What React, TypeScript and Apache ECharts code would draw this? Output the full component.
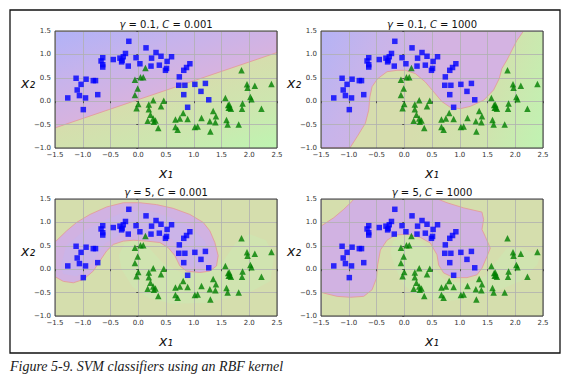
import React, { useEffect, useRef } from "react";
import * as echarts from "echarts";

// ---------- data ----------
const xTicks = [-1.5, -1.0, -0.5, 0.0, 0.5, 1.0, 1.5, 2.0, 2.5];
const yTicks = [-1.0, -0.5, 0.0, 0.5, 1.0, 1.5];

const gammas = ["0.1", "0.1", "5", "5"];
const Cs = ["0.001", "1000", "0.001", "1000"];

const blueSquares: number[][] = [
  [-0.17, 1.28], [0.14, 1.14], [-0.23, 1.02], [0.32, 1.04], [0.41, 0.96], [0.6, 0.95],
  [-0.04, 0.93], [0.24, 0.92], [-0.33, 0.92], [-0.29, 0.87], [-0.3, 0.84], [-0.27, 0.95],
  [-0.45, 0.89], [-0.64, 0.93], [-0.67, 0.86], [-0.64, 0.78], [-0.64, 0.73], [-0.18, 0.75],
  [0.03, 0.8], [0.23, 0.75], [0.38, 0.77], [0.52, 0.85], [0.49, 0.66], [0.51, 0.7],
  [0.93, 0.8], [0.87, 0.72], [0.82, 0.66], [0.74, 0.52], [0.73, 0.34], [0.84, 0.34],
  [1.02, 0.36], [1.21, 0.38], [1.13, 0.21], [0.82, 0.14], [1.27, 0.03], [0.89, -0.13],
  [-1.12, 0.49], [-0.94, 0.47], [-0.81, 0.44], [-0.77, 0.44], [-1.03, 0.36], [-1.1, 0.24],
  [-1.06, 0.12], [-0.95, 0.07], [-1.27, 0.07], [-0.73, 0.14], [-0.99, -0.18],
];

const greenTriangles: number[][] = [
  [0.13, 0.71], [-0.06, 0.46], [0.04, 0.51], [0.09, 0.51], [-0.01, 0.27], [-0.06, 0.13],
  [0.0, -0.06], [-0.03, -0.15], [0.27, 0.02], [0.46, 0.01], [0.19, -0.07], [0.19, -0.17],
  [0.41, -0.11], [0.22, -0.29], [0.27, -0.37], [0.17, -0.42], [0.28, -0.44], [0.31, -0.41],
  [0.36, -0.57], [0.67, -0.39], [0.75, -0.37], [0.81, -0.25], [0.89, -0.38], [0.67, -0.55],
  [0.71, -0.61], [1.02, -0.55], [1.07, -0.54], [1.14, -0.36], [1.29, -0.43], [1.3, -0.65],
  [1.35, -0.21], [1.4, -0.32], [1.39, -0.45], [1.57, 0.07], [1.62, -0.08], [1.64, -0.07],
  [1.65, -0.13], [1.63, -0.14], [1.67, -0.16], [1.59, -0.4], [1.61, -0.5], [1.81, -0.5],
  [1.86, 0.66], [1.88, -0.05], [1.87, -0.16], [1.96, 0.36], [1.97, 0.29], [2.1, 0.33],
  [2.02, 0.09], [2.04, 0.04], [2.22, -0.16], [2.4, 0.37],
];

// decision regions, in data coordinates
const fullDomain = [[-1.5, -1.0], [2.5, -1.0], [2.5, 1.5], [-1.5, 1.5]];

const purpleTL = [[-1.5, 1.5], [2.5, 1.5], [2.5, 1.04], [-1.5, -0.57]];

const purpleTR = [
  [-1.5, -1.0], [-0.98, -1.0], [-0.85, -0.76], [-0.7, -0.47], [-0.64, -0.19], [-0.62, 0.09],
  [-0.58, 0.31], [-0.48, 0.48], [-0.31, 0.63], [-0.13, 0.66], [0.02, 0.66], [0.2, 0.59],
  [0.38, 0.41], [0.53, 0.2], [0.68, -0.01], [0.83, -0.13], [1.01, -0.16], [1.19, -0.11],
  [1.43, 0.02], [1.61, 0.24], [1.71, 0.48], [1.76, 0.7], [1.85, 0.88], [2.03, 1.3],
  [2.15, 1.5], [-1.5, 1.5],
];

const purpleBL = [
  [-1.5, 0.58], [-1.29, 0.82], [-1.11, 1.0], [-0.87, 1.17], [-0.57, 1.33], [-0.27, 1.42],
  [0.03, 1.42], [0.33, 1.38], [0.63, 1.3], [0.93, 1.17], [1.17, 1.0], [1.29, 0.82],
  [1.38, 0.57], [1.44, 0.29], [1.41, 0.07], [1.29, -0.04], [1.11, -0.07], [0.87, -0.04],
  [0.75, 0.07], [0.66, 0.29], [0.54, 0.46], [0.39, 0.57], [0.15, 0.6], [-0.09, 0.62],
  [-0.27, 0.6], [-0.45, 0.53], [-0.57, 0.39], [-0.69, 0.18], [-0.81, -0.04], [-0.99, -0.22],
  [-1.17, -0.29], [-1.35, -0.26], [-1.5, -0.16],
];
const innerBlueBL = [
  [-1.4, 0.05], [-1.3, 0.5], [-1.0, 0.8], [-0.6, 1.05], [-0.2, 1.25], [0.2, 1.25],
  [0.6, 1.1], [0.95, 0.9], [1.2, 0.6], [1.3, 0.25], [1.2, 0.05], [0.95, 0.05],
  [0.8, 0.3], [0.6, 0.65], [0.2, 0.75], [-0.3, 0.75], [-0.6, 0.55], [-0.85, 0.1],
  [-1.1, -0.15], [-1.35, -0.1],
];
const innerGreenBL = [
  [-0.25, 0.55], [0.0, 0.62], [0.2, 0.45], [0.45, 0.12], [0.8, -0.08], [1.2, -0.08],
  [1.5, 0.12], [1.75, 0.55], [2.0, 0.75], [2.3, 0.62], [2.45, 0.3], [2.38, -0.25],
  [2.0, -0.5], [1.6, -0.62], [1.2, -0.72], [0.6, -0.74], [0.2, -0.62], [-0.1, -0.38],
  [-0.3, 0.0], [-0.35, 0.3],
];

const purpleBR = [
  [-1.5, 0.92], [-1.27, 1.1], [-1.09, 1.28], [-0.94, 1.45], [-0.91, 1.5], [0.6, 1.5],
  [0.77, 1.42], [1.07, 1.31], [1.4, 1.22], [1.43, 1.06], [1.4, 0.85], [1.46, 0.7],
  [1.55, 0.45], [1.49, 0.27], [1.4, 0.02], [1.31, -0.12], [1.13, -0.18], [0.89, -0.18],
  [0.71, -0.08], [0.62, 0.09], [0.59, 0.31], [0.47, 0.56], [0.29, 0.68], [0.05, 0.75],
  [-0.16, 0.73], [-0.31, 0.62], [-0.43, 0.41], [-0.48, 0.09], [-0.5, -0.19], [-0.58, -0.44],
  [-0.73, -0.58], [-0.97, -0.6], [-1.21, -0.58], [-1.45, -0.51], [-1.5, -0.49],
];
const innerGreenBR = [
  [-0.2, 0.6], [0.05, 0.7], [0.3, 0.6], [0.5, 0.35], [0.55, 0.0], [0.75, -0.25],
  [1.1, -0.3], [1.45, -0.15], [1.65, 0.15], [1.85, 0.45], [2.1, 0.45], [2.45, 0.3],
  [2.4, 0.1], [2.1, -0.25], [1.7, -0.45], [1.3, -0.6], [0.8, -0.68], [0.3, -0.62],
  [0.0, -0.35], [-0.15, 0.0], [-0.25, 0.35],
];

// ---------- styles ----------
const BOUNDARY = "#e3a19f";
const OLIVE = "#d5dead";
const PURPLE = "#d1b2e2";

type Grad = { from: number[]; to: number[]; stops: [number, string][] };
type Region = { pts: number[][]; fill: string | Grad; stroke?: boolean };

const panels: Region[][] = [
  [
    {
      pts: fullDomain,
      fill: { from: [0.5, 0.24], to: [1.03, -1.6], stops: [[0, "#d6ddad"], [0.5, "#cde6af"], [1, "#bef5b1"]] },
    },
    {
      pts: purpleTL,
      stroke: true,
      fill: { from: [0.5, 0.24], to: [-0.03, 2.08], stops: [[0, "#d7b3df"], [0.5, "#c6b3ec"], [1, "#b1b2f7"]] },
    },
  ],
  [
    {
      pts: fullDomain,
      fill: { from: [0.3, -0.1], to: [2.5, -1.0], stops: [[0, "#d6ddad"], [0.55, "#cfe4ae"], [1, "#c0f3b2"]] },
    },
    {
      pts: purpleTR,
      stroke: true,
      fill: { from: [0.3, 0.4], to: [-1.5, 1.5], stops: [[0, "#d4b3e2"], [0.5, "#c8b4ea"], [1, "#b4b3f5"]] },
    },
  ],
  [
    { pts: fullDomain, fill: OLIVE },
    { pts: innerGreenBL, fill: "#d0e4b0" },
    { pts: purpleBL, fill: PURPLE, stroke: true },
    { pts: innerBlueBL, fill: "#cbb4e8" },
  ],
  [
    { pts: fullDomain, fill: OLIVE },
    { pts: innerGreenBR, fill: "#d0e4b0" },
    { pts: purpleBR, fill: PURPLE, stroke: true },
  ],
];

const gridBoxes = [
  { left: 55, top: 31 },
  { left: 321, top: 31 },
  { left: 55, top: 199 },
  { left: 321, top: 199 },
];
const PW = 222;
const PH = 117;

const fmt = (v: number) => (v < 0 ? "\u2212" : "") + Math.abs(v).toFixed(1);

export default function App() {
  const ref = useRef<HTMLDivElement>(null);

  useEffect(() => {
    if (!ref.current) return;
    const chart = echarts.init(ref.current, null, { renderer: "svg" });

    const grids = gridBoxes.map((g) => ({
      left: g.left,
      top: g.top,
      width: PW,
      height: PH,
      show: true,
      z: 4,
      backgroundColor: "transparent",
      borderColor: "#3c3c3c",
      borderWidth: 1,
    }));

    const xAxes = gridBoxes.map((_, i) => ({
      type: "value",
      gridIndex: i,
      min: xTicks[0],
      max: xTicks[xTicks.length - 1],
      interval: xTicks[1] - xTicks[0],
      z: 3,
      name: "x\u2081",
      nameLocation: "middle",
      nameGap: 18,
      nameTextStyle: { fontSize: 14, fontFamily: "DejaVu Sans", fontStyle: "italic", color: "#111" },
      axisLine: { show: false },
      axisTick: { show: true, length: 2, lineStyle: { color: "#333", width: 0.8 } },
      axisLabel: {
        fontSize: 7, fontFamily: "DejaVu Sans", color: "#333", margin: 3,
        formatter: fmt, showMinLabel: true, showMaxLabel: true, hideOverlap: false,
      },
      splitLine: { show: true, lineStyle: { color: "#b0b0b0", width: 0.8 } },
    }));

    const yAxes = gridBoxes.map((_, i) => ({
      type: "value",
      gridIndex: i,
      min: yTicks[0],
      max: yTicks[yTicks.length - 1],
      interval: yTicks[1] - yTicks[0],
      z: 3,
      name: "x\u2082",
      nameLocation: "middle",
      nameRotate: 0,
      nameGap: 20,
      nameMoveOverlap: false,
      nameTextStyle: {
        fontSize: 14, fontFamily: "DejaVu Sans", fontStyle: "italic", color: "#111",
        align: "right",
        verticalAlign: "bottom",
      },
      axisLine: { show: false },
      axisTick: { show: true, length: 2, lineStyle: { color: "#333", width: 0.8 } },
      axisLabel: {
        fontSize: 7, fontFamily: "DejaVu Sans", color: "#333", margin: 4,
        formatter: fmt, showMinLabel: true, showMaxLabel: true, hideOverlap: false,
      },
      splitLine: { show: true, lineStyle: { color: "#b0b0b0", width: 0.8 } },
    }));

    const series: any[] = [];
    panels.forEach((regions, i) => {
      regions.forEach((r) => {
        series.push({
          type: "custom",
          xAxisIndex: i,
          yAxisIndex: i,
          z: 1,
          silent: true,
          clip: true,
          data: [[0, 0]],
          renderItem: (_p: any, api: any) => {
            const points = r.pts.map((p) => api.coord(p));
            let fill: any;
            if (typeof r.fill === "string") fill = r.fill;
            else {
              const a = api.coord(r.fill.from);
              const b = api.coord(r.fill.to);
              fill = new echarts.graphic.LinearGradient(
                a[0], a[1], b[0], b[1],
                r.fill.stops.map(([offset, color]) => ({ offset, color })),
                true
              );
            }
            return {
              type: "polygon",
              shape: { points },
              style: { fill, stroke: r.stroke ? BOUNDARY : "none", lineWidth: 1 },
            };
          },
        });
      });
      series.push({
        type: "scatter",
        xAxisIndex: i,
        yAxisIndex: i,
        z: 6,
        symbol: "rect",
        symbolSize: 5.5,
        itemStyle: { color: "#0000ff" },
        data: blueSquares,
        silent: true,
      });
      series.push({
        type: "scatter",
        xAxisIndex: i,
        yAxisIndex: i,
        z: 6,
        symbol: "triangle",
        symbolSize: 6.5,
        itemStyle: { color: "#008000" },
        data: greenTriangles,
        silent: true,
      });
    });

    const titleFont = { fontSize: 10, fontFamily: "DejaVu Sans", fill: "#111" };
    const titles = gridBoxes.map((g, i) => ({
      type: "text",
      x: g.left + PW / 2,
      y: g.top - 2,
      z: 10,
      style: {
        text: `{i|γ}{n| = ${gammas[i]}, }{i|C}{n| = ${Cs[i]}}`,
        align: "center",
        verticalAlign: "bottom",
        ...titleFont,
        rich: {
          i: { ...titleFont, fontStyle: "italic" },
          n: { ...titleFont },
        },
      },
    }));

    chart.setOption({
      animation: false,
      backgroundColor: "#ffffff",
      grid: grids,
      xAxis: xAxes,
      yAxis: yAxes,
      series,
      graphic: [
        {
          type: "rect",
          shape: { x: 10, y: 10, width: 550, height: 343 },
          style: { fill: "none", stroke: "#111", lineWidth: 1.3 },
          z: 10,
        },
        ...titles,
        {
          type: "text",
          x: 10,
          y: 366,
          z: 10,
          style: {
            text: "Figure 5-9. SVM classifiers using an RBF kernel",
            fontSize: 14,
            fontStyle: "italic",
            fontFamily: "Liberation Serif",
            fill: "#1a1a1a",
            align: "left",
            verticalAlign: "middle",
          },
        },
      ],
    });

    return () => chart.dispose();
  }, []);

  return (
    <div
      ref={ref}
      style={{ position: "fixed", left: 0, top: 0, width: 580, height: 392, background: "#fff" }}
    />
  );
}
